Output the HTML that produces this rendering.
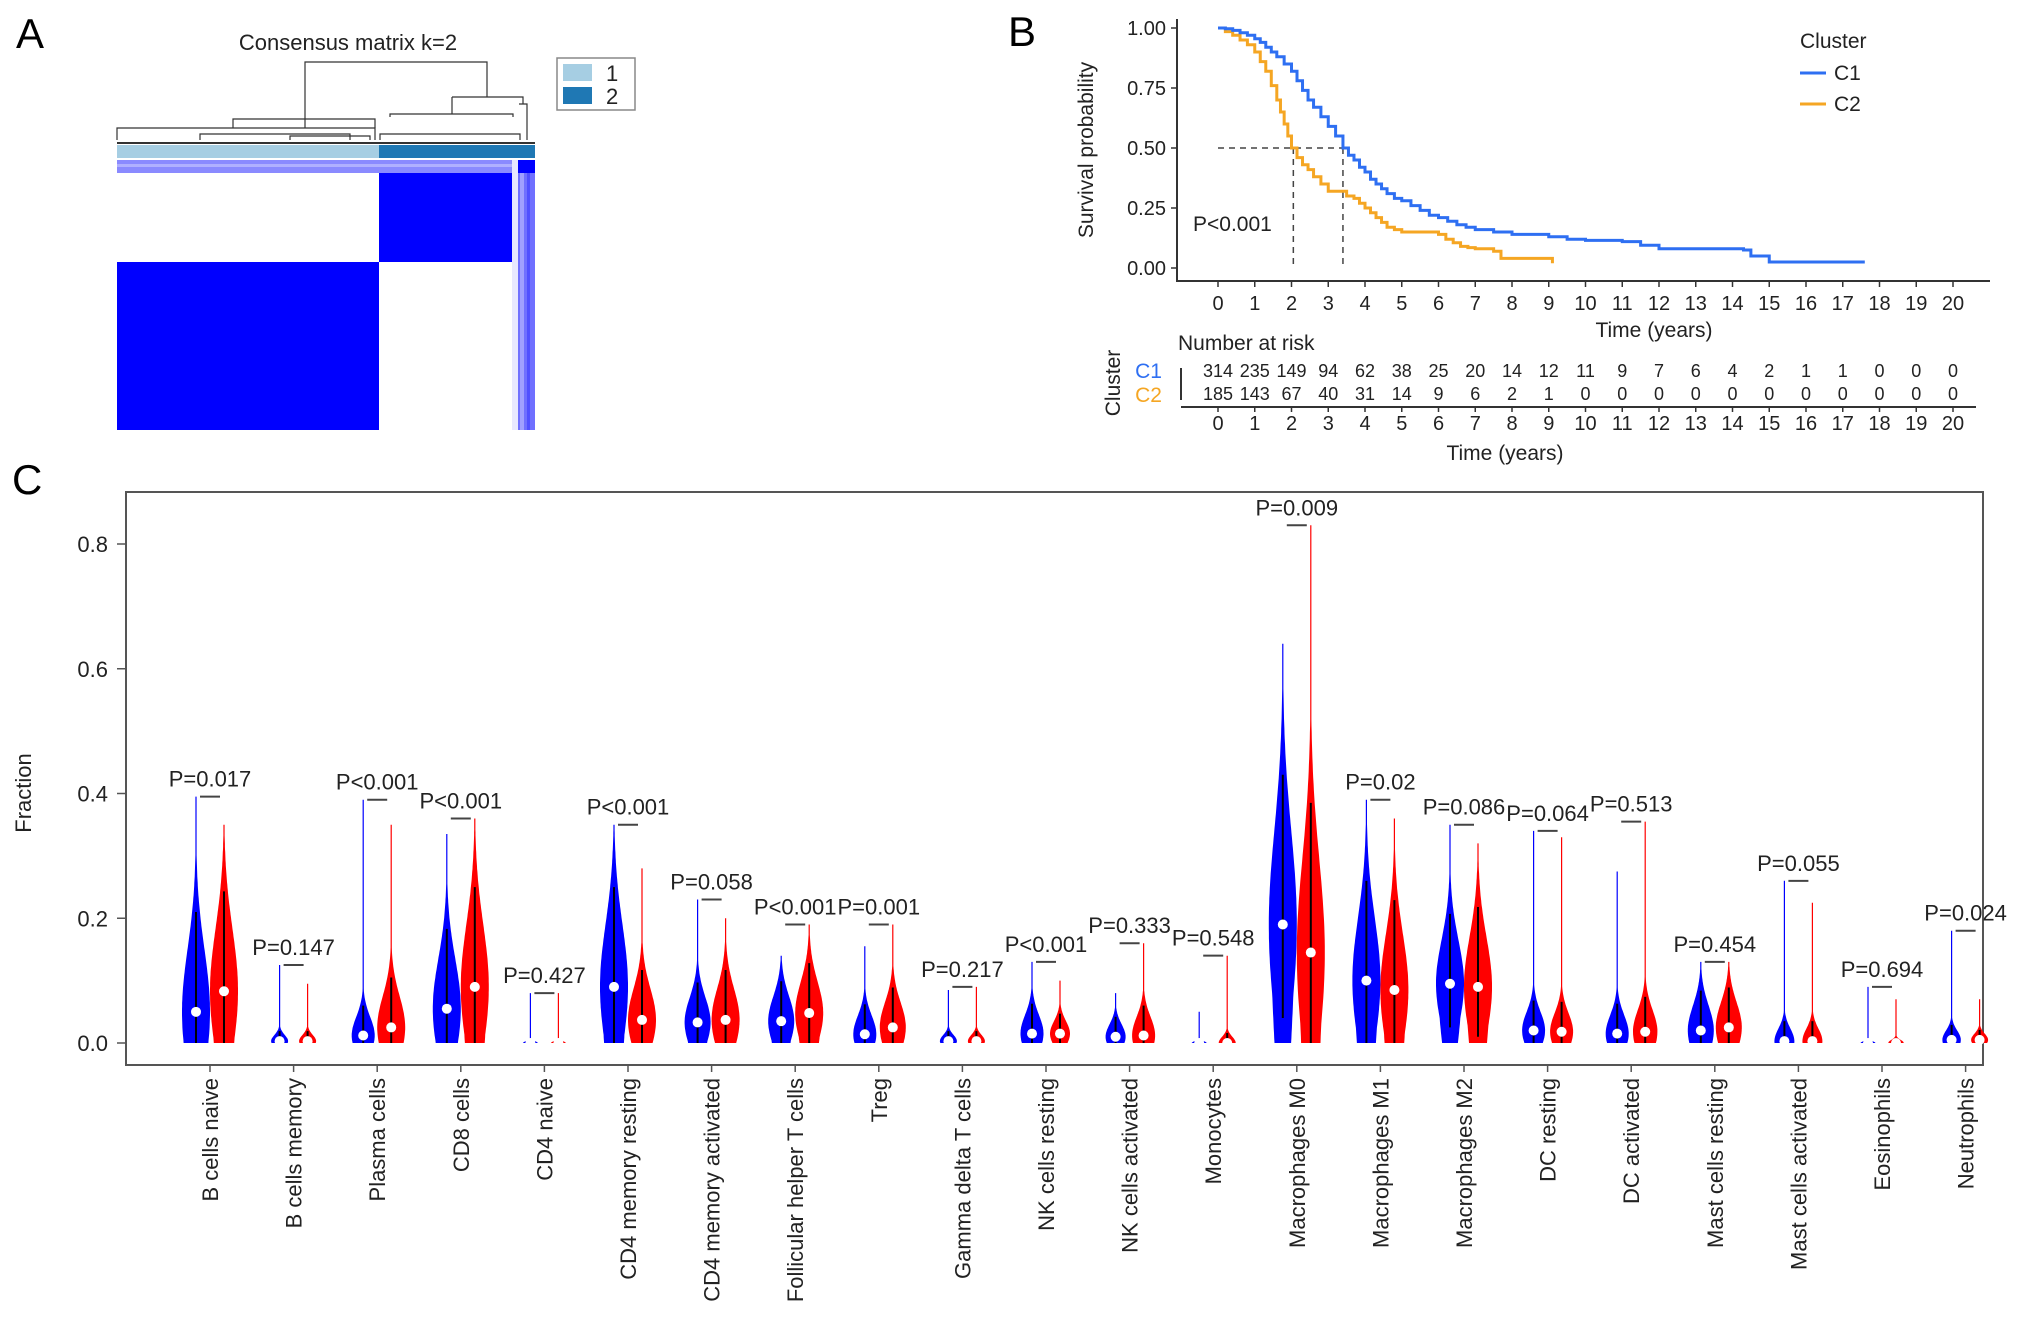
<!DOCTYPE html>
<html><head><meta charset="utf-8"><style>
html,body{margin:0;padding:0;background:#fff;}
svg{display:block;font-family:"Liberation Sans Narrow","Liberation Sans",sans-serif;}
</style></head><body>
<svg id="fig" width="2032" height="1340" viewBox="0 0 2032 1340" xmlns="http://www.w3.org/2000/svg">
<!-- Panel A -->
<g>
<text x="16" y="48" font-size="42" fill="#000">A</text>
<text x="348" y="50" font-size="22" text-anchor="middle" fill="#222">Consensus matrix k=2</text>
<g stroke="#333" stroke-width="1.2" fill="none">
<path d="M305 128 V62 H487 V97"/>
<path d="M233 128 V119 H375 V128"/>
<path d="M452 97 H523 V104"/>
<path d="M390 117 V114 H513 V117"/>
<path d="M452 97 V114"/>
<path d="M519 104 H527 V140"/>
<path d="M117 140 V128 H375 V140"/>
<path d="M380 140 V134 H520 V140"/>
<path d="M200 140 V134 H350 V140 M290 140 V136 H370 V140"/>
<path d="M117 143 H535" stroke-width="2"/>
</g>
<rect x="117" y="145" width="262" height="13" fill="#a6cee3"/>
<rect x="379" y="145" width="156" height="13" fill="#1f78b4"/>
<g>
<rect x="117" y="160" width="418" height="13" fill="#8a8aff"/>
<rect x="117" y="164" width="418" height="3" fill="#b0b0ff"/>
<rect x="117" y="173" width="262" height="89" fill="#ffffff"/>
<rect x="379" y="173" width="133" height="89" fill="#0000ff"/>
<rect x="117" y="262" width="262" height="168" fill="#0000ff"/>
<rect x="379" y="262" width="133" height="168" fill="#ffffff"/>
<rect x="512" y="160" width="6" height="270" fill="#e8e8ff"/>
<rect x="518" y="160" width="17" height="270" fill="#7070ff"/>
<rect x="520" y="160" width="4" height="270" fill="#a0a0ff"/>
<rect x="527" y="160" width="3" height="270" fill="#5050ff"/>
<rect x="518" y="160" width="17" height="13" fill="#0000ff"/>
</g>
<g>
<rect x="557" y="58" width="78" height="52" fill="#fff" stroke="#888" stroke-width="1.5"/>
<rect x="563" y="64" width="29" height="17" fill="#a6cee3"/>
<rect x="563" y="87" width="29" height="17" fill="#1f78b4"/>
<text x="606" y="81" font-size="22" fill="#222">1</text>
<text x="606" y="104" font-size="22" fill="#222">2</text>
</g>
</g>

<!-- Panel B -->
<g id="panelB">
<text x="1008" y="46" font-size="42" fill="#000">B</text>
</g>

<!-- Panel C -->
<g id="panelC">
<text x="12" y="494" font-size="42" fill="#000">C</text>
</g>
</svg>
<script>
// ===== Panel B data =====
const c1Times = [0,0.2,0.4,0.6,0.8,1,1.15,1.3,1.45,1.6,1.8,2,2.15,2.3,2.45,2.6,2.8,3,3.2,3.4,3.55,3.7,3.85,4,4.15,4.3,4.45,4.6,4.8,5,5.25,5.5,5.75,6,6.25,6.5,6.75,7,7.5,8,8.5,9,9.5,10,11,11.5,12,14.3,14.5,15,17.6];
const c1Surv  = [1,0.997,0.99,0.98,0.97,0.955,0.94,0.92,0.9,0.88,0.85,0.82,0.78,0.74,0.7,0.67,0.63,0.59,0.55,0.5,0.47,0.45,0.42,0.4,0.37,0.35,0.33,0.31,0.29,0.28,0.26,0.24,0.22,0.21,0.195,0.18,0.17,0.16,0.15,0.14,0.14,0.13,0.12,0.115,0.11,0.095,0.08,0.075,0.05,0.025,0.025];
const c2Times = [0,0.2,0.4,0.6,0.8,1,1.15,1.3,1.45,1.6,1.7,1.8,1.9,2,2.15,2.3,2.45,2.6,2.8,3,3.5,3.7,3.85,4,4.15,4.3,4.45,4.6,4.8,5,6,6.2,6.4,6.6,6.8,7,7.5,7.7,9,9.1];
const c2Surv  = [1,0.985,0.97,0.95,0.93,0.9,0.86,0.82,0.76,0.7,0.65,0.6,0.55,0.5,0.46,0.43,0.41,0.38,0.35,0.32,0.3,0.29,0.27,0.25,0.23,0.21,0.19,0.17,0.16,0.15,0.14,0.12,0.105,0.09,0.085,0.08,0.07,0.04,0.04,0.02];
const riskC1 = [314,235,149,94,62,38,25,20,14,12,11,9,7,6,4,2,1,1,0,0,0];
const riskC2 = [185,143,67,40,31,14,9,6,2,1,0,0,0,0,0,0,0,0,0,0,0];
const timeTicks = [0,1,2,3,4,5,6,7,8,9,10,11,12,13,14,15,16,17,18,19,20];
const survTicks = [0,0.25,0.5,0.75,1];
const medianC1 = 3.4, medianC2 = 2.05;

// ===== Panel C data =====
const cellTypes = ["B cells naive","B cells memory","Plasma cells","CD8 cells","CD4 naive","CD4 memory resting","CD4 memory activated","Follicular helper T cells","Treg","Gamma delta T cells","NK cells resting","NK cells activated","Monocytes","Macrophages M0","Macrophages M1","Macrophages M2","DC resting","DC activated","Mast cells resting","Mast cells activated","Eosinophils","Neutrophils"];
const blueMax = [0.395,0.125,0.39,0.335,0.08,0.35,0.23,0.14,0.155,0.085,0.13,0.08,0.05,0.64,0.39,0.35,0.34,0.275,0.13,0.26,0.09,0.18];
const redMax  = [0.35,0.095,0.35,0.36,0.08,0.28,0.2,0.19,0.19,0.09,0.1,0.16,0.14,0.83,0.36,0.32,0.33,0.355,0.13,0.225,0.07,0.07];
const blueMed = [0.05,0.003,0.012,0.055,0,0.09,0.033,0.035,0.014,0.003,0.015,0.01,0,0.19,0.1,0.095,0.02,0.015,0.02,0.003,0,0.005];
const redMed  = [0.083,0.003,0.025,0.09,0,0.037,0.037,0.048,0.025,0.003,0.015,0.012,0,0.145,0.085,0.09,0.018,0.018,0.025,0.003,0,0.005];
const blueSpread = [0.1,0.01,0.03,0.08,0.003,0.1,0.04,0.04,0.03,0.01,0.03,0.02,0.003,0.15,0.1,0.07,0.03,0.03,0.04,0.02,0.003,0.015];
const redSpread  = [0.1,0.01,0.05,0.1,0.003,0.05,0.05,0.05,0.04,0.01,0.02,0.03,0.01,0.15,0.09,0.08,0.03,0.035,0.04,0.02,0.005,0.01];
const pLabels = ["P=0.017","P=0.147","P<0.001","P<0.001","P=0.427","P<0.001","P=0.058","P<0.001","P=0.001","P=0.217","P<0.001","P=0.333","P=0.548","P=0.009","P=0.02","P=0.086","P=0.064","P=0.513","P=0.454","P=0.055","P=0.694","P=0.024"];
const fracTicks = [0,0.2,0.4,0.6,0.8];

const NS = "http://www.w3.org/2000/svg";
function mk(tag, attrs, parent, text){
  const e = document.createElementNS(NS, tag);
  for (const k in attrs) e.setAttribute(k, attrs[k]);
  if (text !== undefined) e.textContent = text;
  parent.appendChild(e);
  return e;
}

// ---------- Panel B ----------
(function(){
  const g = document.getElementById('panelB');
  const xT = t => 1218 + t * 36.75;
  const yS = s => 268 - s * 240;
  const ax = mk('path', {d:'M1177 19 V281 H1990', stroke:'#333', 'stroke-width':2, fill:'none'}, g);
  
  
  survTicks.forEach(s => {
    mk('line', {x1:1171, x2:1177, y1:yS(s), y2:yS(s), stroke:'#333', 'stroke-width':1.5}, g);
    const t = mk('text', {x:1166, y:yS(s)+7, 'font-size':20, 'text-anchor':'end', fill:'#222'}, g, s.toFixed(2));
    
    
  });
  timeTicks.forEach(t => {
    mk('line', {x1:xT(t), x2:xT(t), y1:281, y2:287, stroke:'#333', 'stroke-width':1.5}, g);
    const l = mk('text', {x:xT(t), y:310, 'font-size':20, 'text-anchor':'middle', fill:'#222'}, g, t);
    
    
  });
  const xt = mk('text', {x:1654, y:337, 'font-size':21, 'text-anchor':'middle', fill:'#222'}, g, 'Time (years)');
  
  
  const yt = mk('text', {x:0, y:0, 'font-size':21, 'text-anchor':'middle', fill:'#222', transform:'translate(1093,150) rotate(-90)'}, g, 'Survival probability');
  
  
  const dash = mk('path', {d:`M${xT(0)} ${yS(0.5)} H${xT(medianC1)} M${xT(medianC2)} ${yS(0.5)} V${yS(0)} M${xT(medianC1)} ${yS(0.5)} V${yS(0)}`, stroke:'#444', 'stroke-width':1.5, 'stroke-dasharray':'6,5', fill:'none'}, g);
  
  
  function stepPath(ts, ss){
    let d = `M${xT(ts[0])} ${yS(ss[0])}`;
    for (let i=1;i<ts.length;i++){ d += ` H${xT(ts[i])} V${yS(ss[i])}`; }
    return d;
  }
  const l2 = mk('path', {d:stepPath(c2Times,c2Surv), stroke:'#f5a623', 'stroke-width':3, fill:'none'}, g);
  
  
  const l1 = mk('path', {d:stepPath(c1Times,c1Surv), stroke:'#2e6ff2', 'stroke-width':3, fill:'none'}, g);
  
  
  const pv = mk('text', {x:1193, y:231, 'font-size':21, fill:'#222'}, g, 'P<0.001');
  
  
  const lg = mk('g', {}, g);
  
  
  mk('text', {x:1800, y:48, 'font-size':21, fill:'#222'}, lg, 'Cluster');
  mk('line', {x1:1800, x2:1826, y1:73, y2:73, stroke:'#2e6ff2', 'stroke-width':3}, lg);
  mk('line', {x1:1800, x2:1826, y1:104, y2:104, stroke:'#f5a623', 'stroke-width':3}, lg);
  mk('text', {x:1834, y:80, 'font-size':21, fill:'#222'}, lg, 'C1');
  mk('text', {x:1834, y:111, 'font-size':21, fill:'#222'}, lg, 'C2');
  const rt = mk('g', {}, g);
  
  
  mk('text', {x:1178, y:350, 'font-size':21, fill:'#222'}, rt, 'Number at risk');
  mk('text', {x:1162, y:378, 'font-size':21, 'text-anchor':'end', fill:'#2e6ff2'}, rt, 'C1');
  mk('text', {x:1162, y:402, 'font-size':21, 'text-anchor':'end', fill:'#f5a623'}, rt, 'C2');
  mk('text', {x:0, y:0, 'font-size':21, 'text-anchor':'middle', fill:'#222', transform:'translate(1120,383) rotate(-90)'}, rt, 'Cluster');
  mk('path', {d:'M1181 368 V400 M1181 407 H1976', stroke:'#333', 'stroke-width':2, fill:'none'}, rt);
  timeTicks.forEach((t,i) => {
    mk('text', {x:xT(t), y:377, 'font-size':18, 'text-anchor':'middle', fill:'#222'}, rt, riskC1[i]);
    mk('text', {x:xT(t), y:400, 'font-size':18, 'text-anchor':'middle', fill:'#222'}, rt, riskC2[i]);
    mk('line', {x1:xT(t), x2:xT(t), y1:407, y2:412, stroke:'#333', 'stroke-width':1.5}, rt);
    mk('text', {x:xT(t), y:430, 'font-size':20, 'text-anchor':'middle', fill:'#222'}, rt, t);
  });
  mk('text', {x:1505, y:460, 'font-size':21, 'text-anchor':'middle', fill:'#222'}, rt, 'Time (years)');
})();

// ---------- Panel C ----------
(function(){
  const g = document.getElementById('panelC');
  const yV = v => 1043 - v * 623.75;
  const xC = i => 210 + i * 83.6;
  const box = mk('rect', {x:126, y:492, width:1857, height:573, fill:'none', stroke:'#555', 'stroke-width':2}, g);
  
  
  fracTicks.forEach(v => {
    mk('line', {x1:117, x2:126, y1:yV(v), y2:yV(v), stroke:'#555', 'stroke-width':1.5}, g);
    const t = mk('text', {x:108, y:yV(v)+8, 'font-size':22, 'text-anchor':'end', fill:'#222'}, g, v.toFixed(1));
    
    
  });
  const yt = mk('text', {x:0, y:0, 'font-size':22, 'text-anchor':'middle', fill:'#222', transform:'translate(31,793) rotate(-90)'}, g, 'Fraction');
  
  

  function violin(cx, mx, med, sp, color, name){
    const W = Math.min(14, 7 + sp * 150);
    const n = 80;
    const left = [], right = [];
    for (let k=0;k<=n;k++){
      const v = mx * k / n;
      let w = W * Math.exp(-0.5 * Math.pow((v - med) / sp, 2));
      if (v < med) w = Math.max(w, W * 0.85 * Math.exp(-0.5 * Math.pow((v - med) / (sp*1.5), 2)));
      w = Math.max(w, 0.6);
      left.push(`${(cx - w).toFixed(1)},${yV(v).toFixed(1)}`);
      right.push(`${(cx + w).toFixed(1)},${yV(v).toFixed(1)}`);
    }
    const pts = left.concat(right.reverse()).join(' ');
    const p = mk('polygon', {points:pts, fill:color}, g);
    
    
    const lo = Math.max(0, med - sp), hi = Math.min(mx, med + 1.6 * sp);
    mk('line', {x1:cx, x2:cx, y1:yV(lo), y2:yV(hi), stroke:'#000', 'stroke-width':2}, g);
    const c = mk('circle', {cx:cx, cy:yV(med), r:5, fill:'#fff'}, g);
    
    
  }

  cellTypes.forEach((name, i) => {
    const cx = xC(i);
    violin(cx - 14, blueMax[i], blueMed[i], blueSpread[i], '#0000ff', 'violin-c1');
    violin(cx + 14, redMax[i], redMed[i], redSpread[i], '#ff0000', 'violin-c2');
    const top = Math.max(blueMax[i], redMax[i]);
    const bar = mk('line', {x1:cx-10, x2:cx+10, y1:yV(top), y2:yV(top), stroke:'#444', 'stroke-width':2}, g);
    
    
    const pl = mk('text', {x:cx, y:yV(top)-10, 'font-size':22, 'text-anchor':'middle', fill:'#222'}, g, pLabels[i]);
    
    
    mk('line', {x1:cx, x2:cx, y1:1065, y2:1072, stroke:'#555', 'stroke-width':1.5}, g);
    const lab = mk('text', {x:0, y:0, 'font-size':22, 'text-anchor':'end', fill:'#222', transform:`translate(${cx+8},1078) rotate(-90)`}, g, name);
    
    
  });
})();
</script>
</body></html>
